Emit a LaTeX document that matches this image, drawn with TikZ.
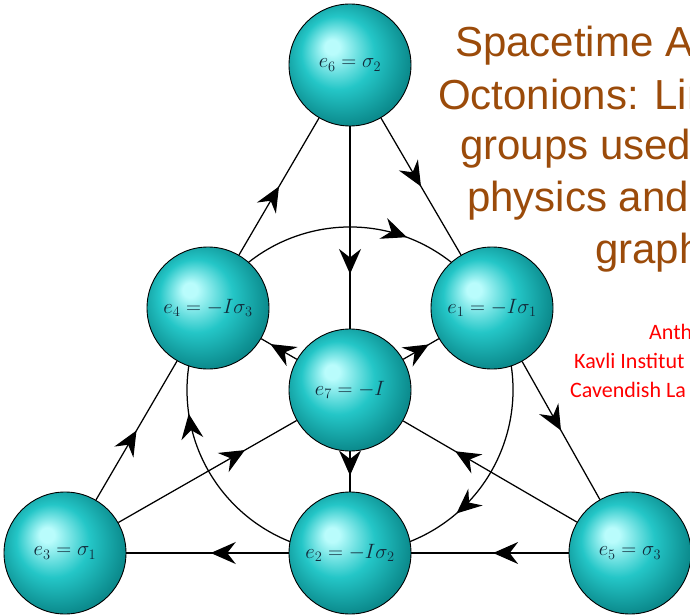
\documentclass[tikz,border=0pt]{standalone}
\usepackage{fontspec}
\newfontfamily\titlefont{Liberation Sans}
\newfontfamily\calfont{Carlito}
\usetikzlibrary{arrows.meta,decorations.markings}
\pgfdeclarelayer{background}
\pgfsetlayers{background,main}
\definecolor{hl}{RGB}{185,252,252}
\definecolor{bodyc}{RGB}{36,198,199}
\definecolor{edgec}{RGB}{12,140,142}
\definecolor{edgedk}{RGB}{0,92,98}
\definecolor{titlebrown}{RGB}{155,75,10}
\definecolor{labelc}{RGB}{18,42,58}
\pgfdeclareradialshading{sphereshade}{\pgfpoint{-8bp}{8bp}}{color(0bp)=(hl); color(3bp)=(hl); color(15bp)=(bodyc); color(27bp)=(edgec); color(40bp)=(edgedk)}
\tikzset{
  sphere/.style={circle, draw=black, line width=0.9pt, minimum size=122pt, inner sep=0pt,
    shading=sphereshade, font=\fontsize{21.5}{25}\selectfont, text=labelc},
  link/.style={line width=1.25pt},
  boldlink/.style={line width=2pt},
  arrowat/.style={postaction={decorate}, decoration={markings,
    mark=at position #1 with {\arrow{Stealth[length=25pt,width=22pt,inset=8.5pt]}}}},
  titletext/.style={anchor=base west, inner sep=0pt, text=titlebrown,
    font=\titlefont\fontsize{42}{50}\selectfont},
  redtext/.style={anchor=base west, inner sep=0pt, text=red,
    font=\calfont\fontsize{22}{26}\selectfont},
}
\begin{document}
\begin{tikzpicture}[x=1pt,y=1pt]
\useasboundingbox (0,0) rectangle (690,614);
% title text (cut by the page edge, as in the reference)
\node[titletext] (t1) at (455,557) {Spacetime A};
\node[titletext] (t2) at (438,504) {Octonions: Lin};
\node[titletext] (t3) at (460,454) {groups used};
\node[titletext] (t4) at (467,402) {physics and};
\node[titletext] (t5) at (595,351) {graph};
\node[redtext] (r1) at (649,275) {Anth};
\node[redtext] (r2) at (574,246) {Kavli Institut};
\node[redtext] (r3) at (570,217) {Cavendish La};
% spheres
\node[sphere] (e6) at (350,549) {$e_6=\sigma_2$};
\node[sphere] (e4) at (208,306) {$e_4=-I\sigma_3$};
\node[sphere] (e1) at (492,306) {$e_1=-I\sigma_1$};
\node[sphere] (e7) at (350,224) {$e_7=-I$};
\node[sphere] (e3) at (65,61) {$e_3=\sigma_1$};
\node[sphere] (e2) at (350,61) {$e_2=-I\sigma_2$};
\node[sphere] (e5) at (630,61) {$e_5=\sigma_3$};
\begin{pgfonlayer}{background}
  \draw[link,arrowat=0.5] (e3) -- (e4);
  \draw[link,arrowat=0.5] (e4) -- (e6);
  \draw[link,arrowat=0.5] (e6) -- (e1);
  \draw[link,arrowat=0.5] (e1) -- (e5);
  \draw[link,arrowat=0.48] (e5) -- (e2);
  \draw[link,arrowat=0.48] (e2) -- (e3);
  \draw[boldlink,arrowat=0.73] (e6) -- (e7);
  \draw[boldlink,arrowat=0.6] (e7) -- (e2);
  \draw[link,arrowat=0.71] (e3) -- (e7);
  \draw[link,arrowat=0.72] (e7) -- (e1);
  \draw[link,arrowat=0.70] (e5) -- (e7);
  \draw[link,arrowat=0.74] (e7) -- (e4);
  \draw[link,arrowat=0.67] ([shift={(150:163)}]e7.center) arc[start angle=150,end angle=30,radius=163];
  \draw[link,arrowat=0.66] ([shift={(30:163)}]e7.center) arc[start angle=30,end angle=-90,radius=163];
  \draw[link,arrowat=0.68] ([shift={(-90:163)}]e7.center) arc[start angle=-90,end angle=-210,radius=163];
\end{pgfonlayer}
\end{tikzpicture}
\end{document}
